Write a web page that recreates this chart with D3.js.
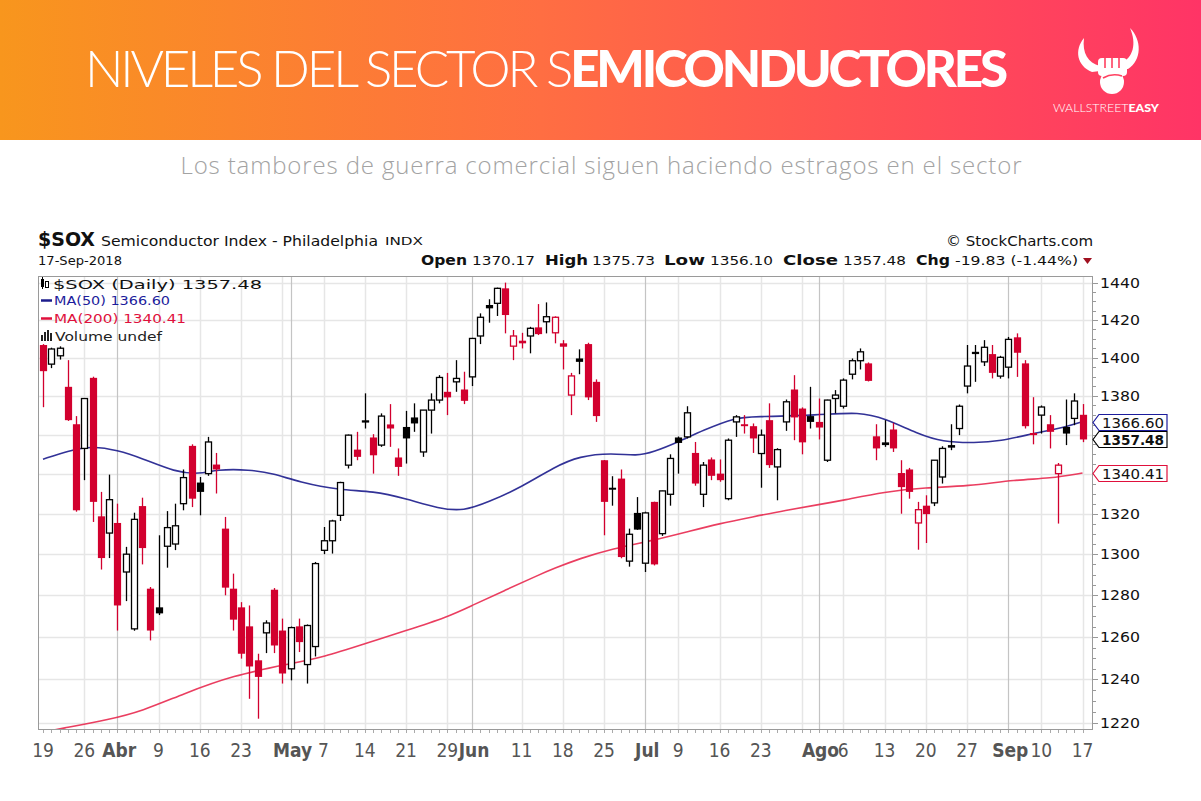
<!DOCTYPE html>
<html><head><meta charset="utf-8">
<script src="https://cdn.jsdelivr.net/npm/d3@7"></script>
<style>body{margin:0;background:#fff;overflow:hidden}svg{display:block}</style>
</head><body>
<svg id="c" width="1201" height="801"></svg>
<script>
// ---------- DATA ----------
const candles = [
["2018-03-19",1406.7,1407.2,1374.1,1392.9],["2018-03-20",1396.6,1405.3,1394.5,1404.6],["2018-03-21",1401.0,1406.0,1399.0,1405.0],
["2018-03-22",1384.7,1398.7,1367.0,1367.4],["2018-03-23",1365.3,1369.5,1321.0,1321.7],["2018-03-26",1352.9,1378.6,1336.8,1378.6],
["2018-03-27",1389.4,1390.0,1315.9,1325.9],["2018-03-28",1318.7,1330.9,1292.5,1298.1],["2018-03-29",1310.4,1339.6,1298.1,1327.0],
["2018-04-02",1315.4,1325.0,1263.1,1275.1],["2018-04-03",1291.3,1303.6,1277.2,1300.0],["2018-04-04",1263.9,1320.5,1263.0,1317.2],
["2018-04-05",1323.8,1328.0,1295.0,1303.0],["2018-04-06",1283.2,1284.0,1258.4,1263.1],["2018-04-09",1274.2,1309.3,1270.5,1271.3],
["2018-04-10",1303.9,1321.3,1293.4,1313.1],["2018-04-11",1305.0,1325.0,1302.0,1314.0],["2018-04-12",1325.0,1342.2,1321.7,1338.1],
["2018-04-13",1354.2,1355.0,1323.3,1327.5],["2018-04-16",1335.6,1338.4,1319.2,1330.9],["2018-04-17",1340.1,1358.8,1339.0,1356.2],
["2018-04-18",1344.7,1350.6,1330.1,1342.2],["2018-04-19",1312.6,1318.4,1280.0,1283.7],["2018-04-20",1283.2,1290.5,1263.1,1268.3],
["2018-04-23",1274.2,1276.7,1249.8,1252.1],["2018-04-24",1265.1,1275.1,1231.0,1246.1],["2018-04-25",1249.0,1252.1,1221.8,1241.2],
["2018-04-26",1262.0,1268.0,1252.4,1266.7],["2018-04-27",1282.7,1283.5,1252.4,1256.0],["2018-04-30",1263.1,1268.8,1238.1,1242.8],
["2018-05-01",1245.0,1265.0,1239.6,1264.5],["2018-05-02",1265.1,1268.8,1252.9,1257.6],["2018-05-03",1247.0,1266.0,1238.1,1265.5],
["2018-05-04",1255.5,1296.2,1250.8,1295.4],["2018-05-07",1301.9,1313.4,1300.0,1306.6],["2018-05-08",1306.6,1317.0,1300.3,1316.4],
["2018-05-09",1319.2,1336.0,1316.4,1335.6],["2018-05-10",1344.4,1360.0,1342.7,1359.7],["2018-05-11",1352.3,1361.4,1346.9,1348.6],
["2018-05-14",1366.5,1381.3,1363.1,1367.0],["2018-05-15",1358.5,1360.2,1340.1,1349.4],["2018-05-16",1354.6,1370.9,1353.7,1369.5],
["2018-05-17",1365.2,1375.7,1353.7,1363.1],["2018-05-18",1348.3,1352.9,1339.0,1343.5],["2018-05-21",1363.9,1372.2,1345.2,1358.0],
["2018-05-22",1368.8,1376.1,1361.4,1365.7],["2018-05-23",1351.1,1372.6,1348.6,1372.6],["2018-05-24",1372.6,1381.3,1360.5,1377.8],
["2018-05-25",1377.8,1390.8,1376.1,1389.6],["2018-05-29",1382.1,1392.0,1370.0,1379.2],["2018-05-30",1387.3,1398.7,1382.1,1389.1],
["2018-05-31",1383.3,1392.6,1375.7,1377.4],["2018-06-01",1389.9,1410.5,1385.1,1410.2],["2018-06-04",1411.5,1423.6,1407.2,1421.5],
["2018-06-05",1428.1,1431.2,1418.6,1426.3],["2018-06-06",1429.0,1437.5,1422.2,1437.1],["2018-06-07",1437.1,1440.2,1412.9,1422.7],
["2018-06-08",1406.1,1414.7,1398.7,1411.5],["2018-06-11",1409.0,1413.2,1404.9,1407.6],["2018-06-12",1411.5,1416.4,1402.3,1415.6],
["2018-06-13",1416.1,1428.6,1412.0,1412.5],["2018-06-14",1419.1,1429.5,1412.9,1421.8],["2018-06-15",1413.2,1422.0,1407.6,1421.5],
["2018-06-18",1407.6,1409.3,1393.8,1405.8],["2018-06-19",1380.4,1392.0,1370.0,1390.4],["2018-06-20",1399.6,1404.4,1391.3,1397.8],
["2018-06-21",1407.2,1407.9,1377.8,1379.2],["2018-06-22",1387.3,1388.6,1366.5,1369.5],["2018-06-25",1346.9,1347.0,1309.3,1325.9],
["2018-06-26",1333.0,1338.8,1324.0,1332.0],["2018-06-27",1337.6,1342.2,1298.0,1298.6],["2018-06-28",1296.6,1312.6,1293.9,1309.8],
["2018-06-29",1320.4,1328.3,1312.0,1312.1],["2018-07-02",1295.6,1321.0,1291.3,1320.4],["2018-07-03",1325.9,1326.0,1294.5,1295.0],
["2018-07-05",1310.1,1331.5,1309.0,1331.4],["2018-07-06",1329.7,1349.9,1324.0,1347.8],["2018-07-09",1358.5,1359.0,1340.1,1355.7],
["2018-07-10",1358.8,1374.6,1358.0,1371.2],["2018-07-11",1350.6,1356.2,1334.0,1335.1],["2018-07-12",1329.7,1346.0,1323.3,1344.4],
["2018-07-13",1347.3,1348.3,1336.8,1339.0],["2018-07-16",1340.1,1347.3,1336.0,1336.8],["2018-07-17",1327.5,1358.0,1326.7,1357.1],
["2018-07-18",1366.5,1370.0,1358.8,1369.1],["2018-07-19",1365.3,1370.0,1360.5,1364.3],["2018-07-20",1364.3,1365.7,1350.6,1358.0],
["2018-07-23",1350.3,1362.6,1333.0,1359.7],["2018-07-24",1367.4,1376.1,1343.0,1344.4],["2018-07-25",1343.5,1353.0,1326.7,1352.3],
["2018-07-26",1366.5,1378.1,1361.9,1376.9],["2018-07-27",1383.3,1390.8,1357.1,1368.8],["2018-07-30",1373.4,1374.0,1349.9,1356.0],
["2018-07-31",1369.5,1384.7,1363.1,1366.5],["2018-08-01",1366.5,1378.6,1357.5,1363.6],["2018-08-02",1346.9,1378.0,1346.0,1377.8],
["2018-08-03",1378.6,1383.0,1370.9,1380.4],["2018-08-06",1374.6,1389.1,1373.4,1388.2],["2018-08-07",1391.3,1399.6,1388.6,1398.4],
["2018-08-08",1398.4,1404.9,1393.8,1403.1],["2018-08-09",1397.0,1397.5,1387.5,1387.8],["2018-08-10",1359.1,1365.3,1346.9,1352.9],
["2018-08-13",1356.0,1367.4,1353.7,1354.6],["2018-08-14",1362.6,1366.0,1351.1,1352.9],["2018-08-15",1340.4,1346.9,1320.0,1333.3],
["2018-08-16",1342.2,1343.0,1327.5,1330.9],["2018-08-17",1315.4,1325.9,1302.2,1322.0],["2018-08-20",1324.0,1329.2,1305.5,1319.8],
["2018-08-21",1325.4,1347.0,1323.8,1346.9],["2018-08-22",1338.4,1354.0,1335.1,1352.9],["2018-08-23",1354.6,1365.3,1352.0,1353.3],
["2018-08-24",1363.1,1375.5,1359.7,1374.6],["2018-08-27",1385.1,1406.7,1381.3,1395.6],["2018-08-28",1403.1,1406.7,1387.3,1401.9],
["2018-08-29",1397.8,1409.3,1395.6,1405.5],["2018-08-30",1401.9,1406.7,1389.1,1392.0],["2018-08-31",1390.3,1401.0,1389.0,1400.2],
["2018-09-04",1395.0,1411.0,1389.1,1409.7],["2018-09-05",1410.8,1412.9,1389.9,1402.6],["2018-09-06",1397.0,1398.7,1363.1,1364.3],
["2018-09-07",1360.8,1379.3,1355.0,1359.7],["2018-09-10",1370.0,1375.0,1360.5,1374.2],["2018-09-11",1365.3,1370.0,1352.9,1361.4],
["2018-09-12",1340.1,1345.5,1315.1,1344.4],["2018-09-13",1363.9,1378.1,1354.6,1360.5],["2018-09-14",1368.3,1381.3,1364.8,1377.31],
["2018-09-17",1370.17,1375.73,1356.10,1357.48]
];
const priorClose = 1415.0;

// moving averages: [date, value]
const ma50 = [
["2018-03-19",1347.4],["2018-03-22",1351.6],["2018-03-27",1354.2],["2018-04-02",1352.0],["2018-04-05",1347.9],
["2018-04-11",1340.9],["2018-04-16",1339.8],["2018-04-18",1342.2],["2018-04-24",1342.2],["2018-04-27",1340.1],
["2018-05-02",1335.9],["2018-05-09",1331.7],["2018-05-15",1331.4],["2018-05-21",1327.5],["2018-05-25",1322.5],
["2018-05-31",1321.3],["2018-06-05",1325.8],["2018-06-11",1333.3],["2018-06-15",1343.5],["2018-06-20",1349.0],
["2018-06-26",1350.6],["2018-06-29",1349.0],["2018-07-03",1351.1],["2018-07-09",1356.2],["2018-07-12",1362.2],
["2018-07-18",1368.8],["2018-07-20",1369.1],["2018-08-01",1370.0],["2018-08-08",1371.7],["2018-08-13",1368.3],
["2018-08-17",1360.5],["2018-08-22",1356.2],["2018-08-28",1355.7],["2018-08-31",1356.6],["2018-09-07",1360.5],
["2018-09-13",1363.9],["2018-09-17",1366.60]
];
const ma200 = [
["2018-03-19",1215.6],["2018-03-21",1217.1],["2018-03-29",1221.4],["2018-04-05",1225.3],["2018-04-12",1233.3],
["2018-04-20",1241.9],["2018-05-01",1247.4],["2018-05-07",1250.5],["2018-05-14",1256.8],["2018-05-21",1263.1],
["2018-05-29",1269.5],["2018-06-01",1275.1],["2018-06-07",1282.4],["2018-06-13",1289.7],["2018-06-15",1293.1],
["2018-06-20",1297.8],["2018-06-26",1302.7],["2018-07-03",1306.8],["2018-07-10",1310.9],["2018-07-16",1315.1],
["2018-07-20",1318.4],["2018-07-26",1321.7],["2018-08-01",1324.5],["2018-08-06",1326.7],["2018-08-13",1330.9],
["2018-08-20",1333.1],["2018-08-27",1333.7],["2018-09-05",1337.1],["2018-09-11",1337.6],["2018-09-17",1340.41]
];

const xTicks = [
["2018-03-19","19",0],["2018-03-26","26",0],["2018-04-02","Abr",1],["2018-04-09","9",0],["2018-04-16","16",0],
["2018-04-23","23",0],["2018-05-01","May",1],["2018-05-07","7",0],["2018-05-14","14",0],["2018-05-21","21",0],
["2018-05-29","29",0],["2018-06-01","Jun",1],["2018-06-11","11",0],["2018-06-18","18",0],["2018-06-25","25",0],
["2018-07-02","Jul",1],["2018-07-09","9",0],["2018-07-16","16",0],["2018-07-23","23",0],["2018-08-01","Ago",1],
["2018-08-06","6",0],["2018-08-13","13",0],["2018-08-20","20",0],["2018-08-27","27",0],["2018-09-04","Sep",1],
["2018-09-10","10",0],["2018-09-17","17",0]
];
const weekLines = ["2018-03-26","2018-04-09","2018-04-16","2018-04-23","2018-04-30","2018-05-07","2018-05-14",
"2018-05-21","2018-05-29","2018-06-11","2018-06-18","2018-06-25","2018-07-09","2018-07-16","2018-07-23",
"2018-07-30","2018-08-06","2018-08-13","2018-08-20","2018-08-27","2018-09-10","2018-09-17"];
const monthLines = ["2018-04-02","2018-05-01","2018-06-01","2018-07-02","2018-08-01","2018-09-04"];
const yTicks = [1220,1240,1260,1280,1300,1320,1340,1360,1380,1400,1420,1440];

const lastClose = 1357.48, lastMA50 = 1366.60, lastMA200 = 1340.41;
const quote = [["Open","1370.17"],["High","1375.73"],["Low","1356.10"],["Close","1357.48"],["Chg","-19.83 (-1.44%)"]];

// ---------- DRAW ----------
const svg = d3.select("#c");
const W = 1201;
const defs = svg.append("defs");
const g1 = defs.append("linearGradient").attr("id","bn").attr("x1","0").attr("x2","1").attr("y1","0").attr("y2","0");
g1.append("stop").attr("offset","0").attr("stop-color","#F8961D");
g1.append("stop").attr("offset","0.45").attr("stop-color","#FF6E42");
g1.append("stop").attr("offset","1").attr("stop-color","#FF3466");
svg.append("rect").attr("width",W).attr("height",140).attr("fill","url(#bn)");

// title
const title = svg.append("text").attr("x",85).attr("y",87).attr("fill","#fff")
  .attr("font-family","Lato, 'Open Sans', sans-serif").attr("font-size",51)
  .attr("textLength",923).attr("lengthAdjust","spacing");
title.append("tspan").attr("font-weight",300).text("NIVELES DEL SECTOR S");
title.append("tspan").attr("font-weight",900).text("EMICONDUCTORES");

// logo
const lg = svg.append("g").attr("fill","#fff");
lg.append("path").attr("d","M1084,38 C1074,50 1077,66 1092,72 L1100,71 L1100,66 C1088,63 1082,53 1084,38 Z");
lg.append("path").attr("d","M1130,28 C1142,40 1142,60 1128,69 L1121,69 L1121,63 C1133,58 1137,44 1130,28 Z");
lg.append("circle").attr("cx",1112).attr("cy",82).attr("r",12);
lg.append("rect").attr("x",1098).attr("y",58).attr("width",29).attr("height",18).attr("rx",4);
lg.append("path").attr("d","M1105,58 V68 M1112,58 V68 M1119,58 V68 M1103,78 C1110,74 1116,74 1122,76").attr("stroke","#FF4060").attr("stroke-width",1.6).attr("fill","none");
const lt = svg.append("text").attr("x",1053).attr("y",112).attr("fill","#fff")
  .attr("font-family","Lato, sans-serif").attr("font-size",12).attr("textLength",106).attr("lengthAdjust","spacingAndGlyphs");
lt.append("tspan").attr("font-weight",300).text("WALLSTREET");
lt.append("tspan").attr("font-weight",900).text("EASY");

// subtitle
svg.append("text").attr("x",601).attr("y",174).attr("text-anchor","middle").attr("fill","#a3a3a3")
  .attr("font-family","'Open Sans', sans-serif").attr("font-weight",300).attr("font-size",24)
  .attr("textLength",841).attr("lengthAdjust","spacing")
  .text("Los tambores de guerra comercial siguen haciendo estragos en el sector");

// ---------- chart ----------
const L = 38, R = 1093, T = 276, B = 730;
const SC = "'DejaVu Sans', Verdana, sans-serif";
const dates = candles.map(d => d[0]);
const x = d3.scalePoint().domain(dates).range([43, 1082.5]);
const y = d3.scaleLog().domain([1216.6, 1443.8]).range([B, T]);
const px = v => Math.round(x(v)) + 0.5;

// header texts
function st(xp, yp, txt, size, weight, w, anchor, fill){
  const t = svg.append("text").attr("x",xp).attr("y",yp).attr("font-family",SC).attr("font-size",size)
    .attr("font-weight",weight||400).attr("fill",fill||"#111").text(txt);
  if (anchor) t.attr("text-anchor",anchor);
  if (w) t.attr("textLength",w).attr("lengthAdjust","spacingAndGlyphs");
  return t;
}
st(38,246,"$SOX",19,700,57);
st(101,246,"Semiconductor Index - Philadelphia",14,400,277);
st(385,245,"INDX",11,400,38);
st(946,246,"© StockCharts.com",14,400,147);
st(38,265,"17-Sep-2018",13,400,84);
const qx = [[421,46,472,63],[545,43,592,63],[664,41,710,63],[783,55,843,63],[916,34,955,123]];
quote.forEach((q,i) => { st(qx[i][0],265,q[0],14,700,qx[i][1]); st(qx[i][2],265,q[1],13,400,qx[i][3]); });
svg.append("path").attr("d","M1083,258 L1092,258 L1087.5,264 Z").attr("fill","#a01020");

// grid
const grid = svg.append("g");
grid.selectAll(".hy").data(yTicks).join("line").attr("x1",L).attr("x2",R)
  .attr("y1",d=>Math.round(y(d))+0.5).attr("y2",d=>Math.round(y(d))+0.5).attr("stroke","#e6e6e6").attr("stroke-width",1.5);
grid.selectAll(".wk").data(weekLines).join("line").attr("x1",px).attr("x2",px).attr("y1",T).attr("y2",B)
  .attr("stroke","#e6e6e6").attr("stroke-width",1.5);
grid.selectAll(".mo").data(monthLines).join("line").attr("x1",px).attr("x2",px).attr("y1",T).attr("y2",B)
  .attr("stroke","#c4c4c4").attr("stroke-width",1.2);

// clip
defs.append("clipPath").attr("id","pc").append("rect").attr("x",L).attr("y",T).attr("width",R-L).attr("height",B-T);

// moving averages
const line = d3.line().x(d=>x(d[0])).y(d=>y(d[1])).curve(d3.curveBasis);
const maG = svg.append("g").attr("clip-path","url(#pc)");
maG.append("path").attr("d",line(ma200)).attr("fill","none").attr("stroke","#e8294f").attr("stroke-width",1.6).attr("opacity",0.9);
maG.append("path").attr("d",line(ma50)).attr("fill","none").attr("stroke","#1c1c8c").attr("stroke-width",1.6).attr("opacity",0.9);

// candles
const RED = "#d2002e";
const cg = svg.append("g");
candles.forEach((d,i) => {
  const [dt,o,h,l,c] = d;
  const pc = i === 0 ? priorClose : candles[i-1][4];
  const col = c < pc ? RED : "#000";
  const cx = px(dt);
  const yh = y(h), yl = y(l), yo = y(o), yc = y(c);
  const top = Math.min(yo,yc), bot = Math.max(yo,yc);
  cg.append("line").attr("x1",cx).attr("x2",cx).attr("y1",yh).attr("y2",yl).attr("stroke",col).attr("stroke-width",1.3);
  if (c > o) {
    cg.append("rect").attr("x",cx-3).attr("y",top).attr("width",6).attr("height",Math.max(bot-top,1))
      .attr("fill","#fff").attr("stroke",col).attr("stroke-width",1.3);
  } else {
    cg.append("rect").attr("x",cx-3.6).attr("y",top).attr("width",7.2).attr("height",Math.max(bot-top,1.6)).attr("fill",col);
  }
});

// border
svg.append("rect").attr("x",L+0.5).attr("y",T+0.5).attr("width",R-L-1).attr("height",B-T-1)
  .attr("fill","none").attr("stroke","#9a9a9a").attr("stroke-width",1);
// day ticks on bottom
svg.append("g").selectAll("line").data(dates).join("line").attr("x1",px).attr("x2",px).attr("y1",B).attr("y2",B+3).attr("stroke","#aaa");
// right axis ticks
const minor = d3.range(1220,1441,5);
svg.append("g").selectAll("line").data(minor).join("line").attr("x1",R).attr("x2",d=>R+(d%20===0?5:3))
  .attr("y1",d=>Math.round(y(d))+0.5).attr("y2",d=>Math.round(y(d))+0.5).attr("stroke","#999");
const boxVals = [lastMA200, lastMA50, lastClose];
const visibleTicks = yTicks.filter(t => boxVals.every(v => Math.abs(y(t) - y(v)) > 14));
svg.append("g").selectAll("text").data(visibleTicks).join("text").attr("x",1100).attr("y",d=>y(d)+5)
  .attr("font-family",SC).attr("font-size",14).attr("fill","#111").attr("textLength",40).attr("lengthAdjust","spacingAndGlyphs")
  .text(d=>d);

// value boxes
function vbox(v, stroke, bold){
  const c = Math.round(y(v)) + 0.5;
  svg.append("path").attr("d",`M${R},${c} L${R+6},${c-8} L${R+74},${c-8} L${R+74},${c+8} L${R+6},${c+8} Z`)
    .attr("fill","#fff").attr("stroke",stroke).attr("stroke-width",1.2);
  svg.append("text").attr("x",R+9).attr("y",c+5).attr("font-family",SC).attr("font-size",14)
    .attr("font-weight",bold?700:400).attr("fill","#111").attr("textLength",62).attr("lengthAdjust","spacingAndGlyphs")
    .text(v.toFixed(2));
}
vbox(lastMA200, "#e0103c", false);
vbox(lastMA50, "#1c1c9c", false);
vbox(lastClose, "#000", true);

// legend
const lgd = svg.append("g");
lgd.append("rect").attr("x",41).attr("y",279).attr("width",3).attr("height",8).attr("fill","#000");
lgd.append("rect").attr("x",45.5).attr("y",281.5).attr("width",3).attr("height",6).attr("fill","#fff").attr("stroke","#000");
lgd.append("line").attr("x1",42.5).attr("x2",42.5).attr("y1",277).attr("y2",289).attr("stroke","#000");
st(53,289,"$SOX (Daily) "+lastClose.toFixed(2),13,400,209);
lgd.append("line").attr("x1",41).attr("x2",52).attr("y1",300.5).attr("y2",300.5).attr("stroke","#1c1c8c").attr("stroke-width",2.5);
st(54,305,"MA(50) "+lastMA50.toFixed(2),12,400,116,null,"#1c1c9c");
lgd.append("line").attr("x1",41).attr("x2",52).attr("y1",318.5).attr("y2",318.5).attr("stroke","#e0103c").attr("stroke-width",2.5);
st(54,323,"MA(200) "+lastMA200.toFixed(2),12,400,132,null,"#e0103c");
[[41,6],[44,9],[47,11],[50,8]].forEach(b=>lgd.append("rect").attr("x",b[0]).attr("y",341-b[1]).attr("width",2).attr("height",b[1]).attr("fill","#222"));
st(55,341,"Volume undef",12,400,107,null,"#222");

// x labels
svg.append("g").selectAll("text").data(xTicks).join("text")
  .attr("x",d=>x(d[0]) + (d[2] ? 2 : 0)).attr("y",757).attr("text-anchor","middle")
  .attr("font-family","'Liberation Sans Narrow','DejaVu Sans Condensed','Roboto',sans-serif")
  .attr("font-stretch","condensed")
  .attr("font-size",19).attr("font-weight",d=>d[2]?700:400).attr("fill","#555")
  .text(d=>d[1]);
</script>
</body></html>
